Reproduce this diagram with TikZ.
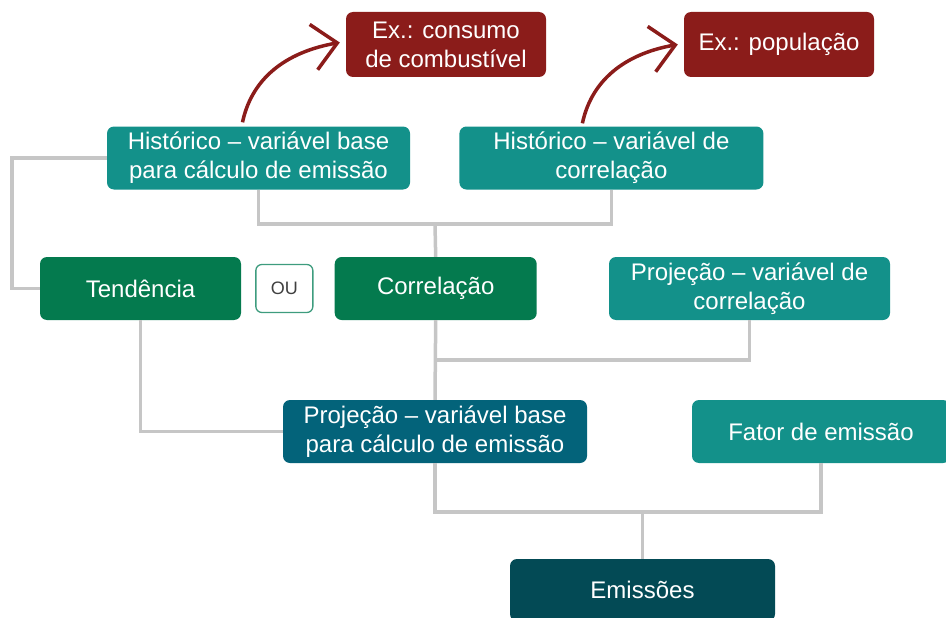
\documentclass[tikz,border=0pt]{standalone}
\usepackage{fontspec}
\setmainfont{Liberation Sans}
\usepackage{tikz}
\usetikzlibrary{positioning,arrows.meta}
\definecolor{histteal}{HTML}{13918A}
\definecolor{exred}{HTML}{8B1C1A}
\definecolor{mgreen}{HTML}{047A4E}
\definecolor{pblue}{HTML}{03637A}
\definecolor{emdark}{HTML}{034A55}
\definecolor{linkgray}{HTML}{C6C6C6}
\definecolor{ougreen}{HTML}{3E9C7E}
\begin{document}
\begin{tikzpicture}[x=1pt,y=-1pt,
  box/.style={rectangle,rounded corners=7pt,text=white,align=center,minimum height=63pt,inner sep=2pt,font=\fontsize{24}{29}\selectfont},
  oubox/.style={rectangle,rounded corners=6pt,draw=ougreen,line width=1.3pt,fill=white,text=black!75,minimum width=57pt,minimum height=48pt,inner sep=1pt,font=\fontsize{18}{20}\selectfont},
  link/.style={draw=linkgray,line width=3.5pt},
  exarrow/.style={draw=exred,line width=3.5pt,-{Straight Barb[length=24pt,width=46pt]}}]
\useasboundingbox (0,0) rectangle (946,618);
\node[box,fill=histteal,minimum width=303pt] (h1) at (258.5,158) {Histórico – variável base\\para cálculo de emissão};
\node[box,fill=histteal,minimum width=304pt] (h2) [right=49pt of h1] {Histórico – variável de\\correlação};
\node[box,fill=exred,minimum width=200pt,minimum height=65pt] (e1) at (446,44.5) {Ex.: consumo\\de combustível};
\node[box,fill=exred,minimum width=190pt,minimum height=65pt] (e2) at (779,44.5) {Ex.: população};
\node[box,fill=mgreen,minimum width=201pt] (t) at (140.5,288.5) {Tendência};
\node[oubox] (ou) [right=14pt of t] {OU};
\node[box,fill=mgreen,minimum width=202pt] (c) [right=21pt of ou] {Correlação};
\node[box,fill=histteal,minimum width=281pt] (p2) at (749.5,288.5) {Projeção – variável de\\correlação};
\node[box,fill=pblue,minimum width=304pt] (p1) at (435,431.5) {Projeção – variável base\\para cálculo de emissão};
\node[box,fill=histteal,minimum width=258pt] (f) at (821,431.5) {Fator de emissão};
\node[box,fill=emdark,minimum width=265pt,minimum height=62pt] (em) at (642.5,590) {Emissões};
\coordinate (j1) at (435,224);
\coordinate (lft) at (12,288.5);
\coordinate (j2) at (435,360);
\coordinate (j3) at (642.5,512);
\draw[link] (h1.south) |- (j1) -| (h2.south);
\draw[link] (j1) -- (c.north);
\draw[link] (h1.west) -| (lft) -- (t.west);
\draw[link] (t.south) |- (p1.west);
\draw[link] (c.south) -- (p1.north);
\draw[link] (p2.south) |- (j2);
\draw[link] (p1.south) |- (j3) -| (f.south);
\draw[link] (j3) -- (em.north);
\draw[exarrow] ([xshift=-16pt,yshift=4pt]h1.north) to[out=78,in=190] ([xshift=-6pt,yshift=2pt]e1.west);
\draw[exarrow] ([xshift=-29pt,yshift=3pt]h2.north) to[out=78,in=190] ([xshift=-6pt]e2.west);
\end{tikzpicture}
\end{document}
